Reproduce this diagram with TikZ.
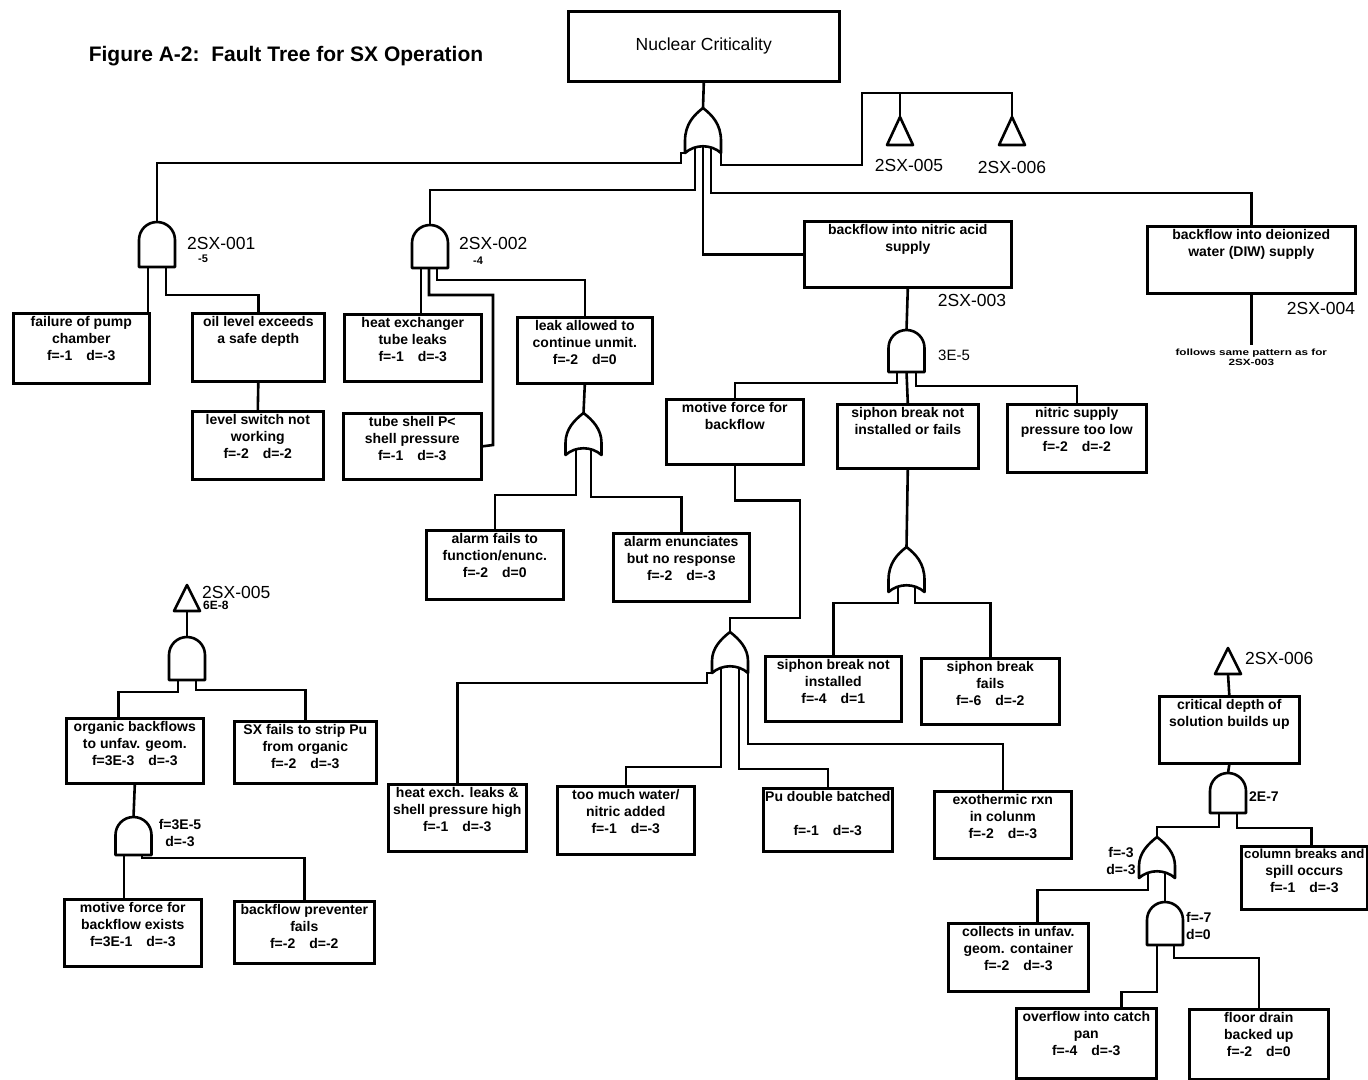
\documentclass[tikz,border=0pt]{standalone}
\usepackage{fontspec}
\setmainfont{Liberation Sans}
\usetikzlibrary{calc}
\newcommand\bx[6]{%
 \pgfmathsetmacro\bxw{#4-#2}\pgfmathsetmacro\bxh{#5-#3}%
 \node[box,minimum width=\bxw pt,minimum height=\bxh pt,anchor=north west] (#1) at (#2,#3) {};%
 \node[txt,anchor=north] (#1-t) at ([yshift=-4pt]#1.north) {#6};}
\newcommand\ANDG[4]{%
 \draw[gate] (#2-18,#4) -- (#2-18,#3+18) .. controls (#2-18,#3+8) and (#2-10,#3) .. (#2,#3) .. controls (#2+10,#3) and (#2+18,#3+8) .. (#2+18,#3+18) -- (#2+18,#4) -- cycle;
 \coordinate (#1) at (#2,#3);}
\newcommand\ORG[4]{%
 \draw[gate] (#2-18,#4) -- (#2-18,#4-12) .. controls (#2-18,#3+16) and (#2-9,#3+7) .. (#2,#3) .. controls (#2+9,#3+7) and (#2+18,#3+16) .. (#2+18,#4-12) -- (#2+18,#4) .. controls (#2+8,#4-9) and (#2-8,#4-9) .. cycle;
 \coordinate (#1) at (#2,#3);}
\newcommand\TRI[4]{%
 \draw[gate] (#2,#3) -- (#2-13,#3+#4) -- (#2+13,#3+#4) -- cycle;
 \coordinate (#1) at (#2,#3); \coordinate (#1-b) at (#2,#3+#4);}
\begin{document}
\begin{tikzpicture}[x=1pt,y=-1pt,
 wire/.style={line width=2.6pt,line join=miter},
 gate/.style={line width=2.6pt,fill=white,line join=round},
 box/.style={draw,line width=2.6pt,inner sep=0pt},
 txt/.style={font=\fontsize{14}{17}\selectfont\bfseries,align=center,inner sep=0pt},
 lab/.style={font=\fontsize{17.5}{20}\selectfont,inner sep=0pt},
 fdl/.style={font=\fontsize{14}{17}\selectfont\bfseries,inner sep=0pt},
 sml/.style={font=\fontsize{11}{13}\selectfont\bfseries,inner sep=0pt}]
\useasboundingbox (0,0) rectangle (1368,1079);
\clip (0,0) rectangle (1368,1079);

% title
\node[font=\fontsize{21}{24}\selectfont\bfseries,inner sep=0pt] (title) at (286,56) {Figure A-2:\ \ Fault Tree for SX Operation};

% top event
\node[box,minimum width=271pt,minimum height=70pt,anchor=north west] (top) at (567,10) {};
\node[lab] (top-t) at (top.center) {Nuclear Criticality};

% boxes
\bx{fp}{12}{312}{148}{382}{failure of pump\\chamber\\f=-1\quad d=-3}
\bx{ol}{191}{312}{323}{380}{oil level exceeds\\a safe depth}
\bx{ls}{191}{410}{322}{478}{level switch not\\working\\f=-2\quad d=-2}
\bx{he}{343}{313}{480}{380}{heat exchanger\\tube leaks\\f=-1\quad d=-3}
\bx{ts}{342}{412}{480}{478}{tube shell P<\\shell pressure\\f=-1\quad d=-3}
\bx{la}{516}{316}{651}{382}{leak allowed to\\continue unmit.\\f=-2\quad d=0}
\bx{af}{425}{529}{562}{598}{alarm fails to\\function/enunc.\\f=-2\quad d=0}
\bx{ae}{612}{532}{748}{600}{alarm enunciates\\but no response\\f=-2\quad d=-3}
\bx{na}{803}{220}{1010}{286}{backflow into nitric acid\\supply}
\bx{diw}{1146}{225}{1354}{292}{backflow into deionized\\water (DIW) supply}
\bx{mf}{665}{398}{802}{463}{motive force for\\backflow}
\bx{sb}{836}{403}{977}{467}{siphon break not\\installed or fails}
\bx{ns}{1006}{403}{1145}{471}{nitric supply\\pressure too low\\f=-2\quad d=-2}
\bx{sni}{764}{655}{900}{720}{siphon break not\\installed\\f=-4\quad d=1}
\bx{sbf}{920}{657}{1058}{723}{siphon break\\fails\\f=-6\quad d=-2}
\bx{hx}{387}{783}{525}{850}{heat exch. leaks \&\\shell pressure high\\f=-1\quad d=-3}
\bx{tm}{556}{785}{693}{853}{too much water/\\nitric added\\f=-1\quad d=-3}
\bx{pu}{762}{787}{891}{850}{Pu double batched\\[17pt]f=-1\quad d=-3}
\bx{ex}{933}{790}{1070}{857}{exothermic rxn\\in colunm\\f=-2\quad d=-3}
\bx{ob}{65}{717}{202}{782}{organic backflows\\to unfav. geom.\\f=3E-3\quad d=-3}
\bx{sx}{233}{720}{375}{782}{SX fails to strip Pu\\from organic\\f=-2\quad d=-3}
\bx{mfe}{63}{898}{200}{965}{motive force for\\backflow exists\\f=3E-1\quad d=-3}
\bx{bp}{233}{900}{373}{962}{backflow preventer\\fails\\f=-2\quad d=-2}
\bx{cd}{1158}{695}{1298}{762}{critical depth of\\solution builds up}
\bx{cb}{1240}{845}{1366}{908}{\fontsize{13.2}{17}\selectfont column breaks and\\spill occurs\\f=-1\quad d=-3}
\bx{cu}{947}{922}{1087}{990}{collects in unfav.\\geom. container\\f=-2\quad d=-3}
\bx{ov}{1015}{1007}{1155}{1077}{overflow into catch\\pan\\f=-4\quad d=-3}
\bx{fd}{1188}{1008}{1327}{1078}{floor drain\\backed up\\f=-2\quad d=0}

% gates
\ORG{gO1}{703}{108}{153}
\ANDG{gA1}{157}{222}{267}
\ANDG{gA2}{430}{225}{268}
\ORG{gO2}{583.5}{413}{455}
\ANDG{gA3}{906.5}{330}{372}
\ORG{gO3}{906.5}{547}{592}
\ORG{gO4}{730}{632}{673}
\ANDG{gA5}{187}{637}{680}
\ANDG{gA6}{133.5}{817}{855}
\ANDG{gA7}{1228}{773}{813}
\ORG{gO5}{1157}{837}{878}
\ANDG{gA8}{1165}{902}{945}
\TRI{t1}{900}{117}{28}
\TRI{t2}{1012}{117}{28}
\TRI{t3}{187}{585}{26}
\TRI{t4}{1228}{648}{26}

% gate input points
\coordinate (o1L) at (685,153); \coordinate (o1a) at (695,147);
\coordinate (o1b) at (703,146); \coordinate (o1c) at (711,147);
\coordinate (o1R) at (721,153);
\coordinate (a1a) at (148,267); \coordinate (a1b) at (166,267);
\coordinate (a2a) at (421,268); \coordinate (a2b) at (429,268); \coordinate (a2c) at (437,268);
\coordinate (o2a) at (576,449); \coordinate (o2b) at (591,449);
\coordinate (a3a) at (897,372); \coordinate (a3b) at (906.5,372); \coordinate (a3c) at (916,372);
\coordinate (o3a) at (898,586); \coordinate (o3b) at (915,586);
\coordinate (o4L) at (712,673); \coordinate (o4a) at (721,667);
\coordinate (o4b) at (739,667); \coordinate (o4R) at (748,673);
\coordinate (a5a) at (178,680); \coordinate (a5b) at (196,680);
\coordinate (a6a) at (124,855); \coordinate (a6b) at (142,855);
\coordinate (a7a) at (1219,813); \coordinate (a7b) at (1237,813);
\coordinate (o5a) at (1148,872); \coordinate (o5b) at (1165,872);
\coordinate (a8a) at (1157,945); \coordinate (a8b) at (1174,945);

% connectors
\draw[wire] (top.south) -- (gO1);
\draw[wire] (o1L) -- ++(-4,0) -- ++(0,10) -| (gA1);
\draw[wire] (o1a) -- ++(0,43) -| (gA2);
\draw[wire] (o1b) |- (na.west);
\draw[wire] (o1c) -- ++(0,46) -| (diw.north);
\draw[wire] (o1R) -- ++(0,12) -| (862,93) -| (t2);
\draw[wire] (t1) -- ++(0,-24);
\draw[wire] (a1a) -- (a1a |- fp.north);
\draw[wire] (a1b) -- ++(0,28) -| (ol.north);
\draw[wire] (ol.south) -- (ls.north);
\draw[wire] (a2a) -- (a2a |- he.north);
\draw[wire] (a2b) -- ++(0,27) -| (493,445) -- (ts.east);
\draw[wire] (a2c) -- ++(0,12) -| (la.north);
\draw[wire] (la.south) -- (gO2);
\draw[wire] (o2a) -- ++(0,46) -| (af.north);
\draw[wire] (o2b) -- ++(0,48) -| (ae.north);
\draw[wire] (na.south) -- (gA3);
\draw[wire] (a3a) -- ++(0,11) -| (mf.north);
\draw[wire] (a3b) -- (sb.north);
\draw[wire] (a3c) -- ++(0,14) -| (ns.north);
\draw[wire] (mf.south) -- ++(0,35) -| (800,618) -| (gO4);
\draw[wire] (sb.south) -- (gO3);
\draw[wire] (o3a) -- ++(0,17) -| (sni.north);
\draw[wire] (o3b) -- ++(0,17) -| (sbf.north);
\draw[wire] (o4L) -- ++(-5,0) -- ++(0,10) -| (hx.north);
\draw[wire] (o4a) -- ++(0,100) -| (tm.north);
\draw[wire] (o4b) -- ++(0,102) -| (pu.north);
\draw[wire] (o4R) -- ++(0,71) -| (ex.north);
\draw[wire] (t3-b) -- (gA5);
\draw[wire] (a5a) -- ++(0,12) -| ([xshift=-16.5pt]ob.north);
\draw[wire] (a5b) -- ++(0,10) -| (sx.north);
\draw[wire] (ob.south) -- (gA6);
\draw[wire] (a6a) -- (a6a |- mfe.north);
\draw[wire] (a6b) -- ++(0,3) -| (bp.north);
\draw[wire] (t4-b) -- (cd.north);
\draw[wire] (cd.south) -- (gA7);
\draw[wire] (a7a) -- ++(0,14) -| (gO5);
\draw[wire] (a7b) -- ++(0,15) -| ([xshift=7pt]cb.north);
\draw[wire] (o5a) -- ++(0,18) -| ([xshift=19pt]cu.north);
\draw[wire] (o5b) -- (gA8);
\draw[wire] (a8a) -- ++(0,47) -| ([xshift=35pt]ov.north);
\draw[wire] (a8b) -- ++(0,13) -| (fd.north);
\draw[wire] (diw.south) -- ++(0,50) coordinate (diwend);

% labels
\node[lab,anchor=west] (l001) at (187,243) {2SX-001};
\node[sml] (l001b) at (203,259) {-5};
\node[lab,anchor=west] (l002) at (459,243) {2SX-002};
\node[sml] (l002b) at (478,261) {-4};
\node[lab] (l003) at (972,300) {2SX-003};
\node[lab] (l004) at (1321,308) {2SX-004};
\node[font=\fontsize{15}{17}\selectfont,inner sep=0pt] (l35) at (954,355) {3E-5};
\node[lab] (l005t) at (909,165) {2SX-005};
\node[lab] (l006t) at (1012,167) {2SX-006};
\node[lab,anchor=west] (l005) at (202,592) {2SX-005};
\node[font=\fontsize{12}{14}\selectfont\bfseries,inner sep=0pt,anchor=west] (l68) at (203,605) {6E-8};
\node[lab,anchor=west] (l006) at (1245,658) {2SX-006};
\node[fdl,anchor=west] (l27) at (1249,797) {2E-7};
\node[fdl,align=center] (lf35) at (180,833) {f=3E-5\\d=-3};
\node[fdl,align=center] (lf3) at (1121,861) {f=-3\\d=-3};
\node[fdl,align=left,anchor=west] (lf7) at (1186,926) {f=-7\\d=0};
\node[inner sep=0pt,anchor=north] (fol) at ([yshift=-4pt]diwend) {\scalebox{1.3}[1]{\fontsize{9}{10}\selectfont\bfseries\begin{tabular}{@{}c@{}}follows same pattern as for\\2SX-003\end{tabular}}};
\end{tikzpicture}
\end{document}
